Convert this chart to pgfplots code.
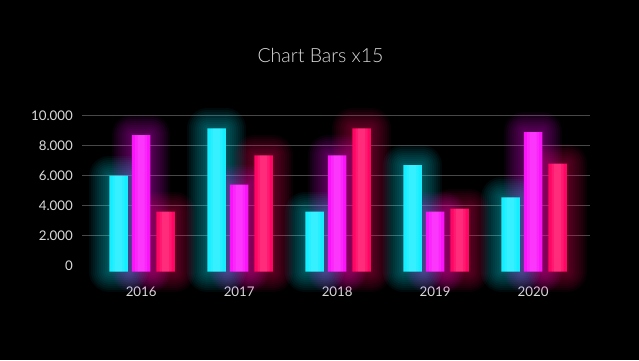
\documentclass[border=0pt]{standalone}
\usepackage{pgfplots}
\usepackage{pgfplotstable}
\pgfplotsset{compat=1.18}
\usepackage{fontspec}
\setmainfont{Lato}
\newfontfamily\latolight{Lato Light}
\definecolor{cy}{RGB}{20,238,255}
\definecolor{mg}{RGB}{250,20,250}
\definecolor{rd}{RGB}{255,6,100}
\definecolor{gridc}{RGB}{72,72,72}
\definecolor{txt}{RGB}{218,218,218}
\pgfplotstableread{
x c m r
0 6000 8700 3600
1 9150 5400 7350
2 3600 7350 9150
3 6700 3600 3800
4 4550 8900 6800
}\data
\begin{document}
\begin{tikzpicture}
\fill[black] (0pt,0pt) rectangle (639pt,360pt);
\node[font=\latolight\fontsize{19.5}{22}\selectfont, text=txt] at (320.5pt,305pt) {Chart Bars x15};
\begin{axis}[at={(82pt,88.3pt)}, anchor=south west, scale only axis,
  width=508pt, height=156pt,
  xmin=-0.604, xmax=4.58, ymin=0, ymax=10400,
  clip=false,
  axis line style={draw=none}, major tick length=0pt,
  ybar, bar width=18.5pt,
  y filter/.expression={y+400},
  scaled y ticks=false,
  ytick={2400,4400,6400,8400,10400},
  yticklabels={2.000,4.000,6.000,8.000,10.000},
  extra y ticks={400}, extra y tick labels={0},
  extra y tick style={grid=none},
  ymajorgrids, grid style={gridc, line width=1.3pt},
  xtick={0,1,2,3,4}, xticklabels={2016,2017,2018,2019,2020},
  ticklabel style={font=\fontsize{13.3}{15}\selectfont, text=txt},
  yticklabel style={inner sep=0pt, anchor=east, xshift=-9pt},
  xticklabel style={inner sep=0pt, anchor=north, yshift=-15pt},
  glow/.style={draw=#1, draw opacity=0.045, fill=none, line join=round},
  hl/.style={draw=none, fill=white, fill opacity=0.08},
]
\pgfplotsinvokeforeach{4,8,12,16,20,24,28,32,36,40}{
  \addplot[bar shift=-22.5pt, glow=cy, line width=#1pt] table[x=x,y=c]{\data};
  \addplot[bar shift=0pt, glow=mg, line width=#1pt] table[x=x,y=m]{\data};
  \addplot[bar shift=24.5pt, glow=rd, line width=#1pt] table[x=x,y=r]{\data};
}
\addplot[bar shift=-22.5pt, draw=none, fill=cy] table[x=x,y=c]{\data};
\addplot[bar shift=0pt, draw=none, fill=mg] table[x=x,y=m]{\data};
\addplot[bar shift=24.5pt, draw=none, fill=rd] table[x=x,y=r]{\data};
\pgfplotsinvokeforeach{12,7}{
  \addplot[bar shift=-22.5pt, hl, bar width=#1pt] table[x=x,y=c]{\data};
  \addplot[bar shift=0pt, hl, bar width=#1pt] table[x=x,y=m]{\data};
  \addplot[bar shift=24.5pt, hl, bar width=#1pt] table[x=x,y=r]{\data};
}
\end{axis}
\end{tikzpicture}
\end{document}
